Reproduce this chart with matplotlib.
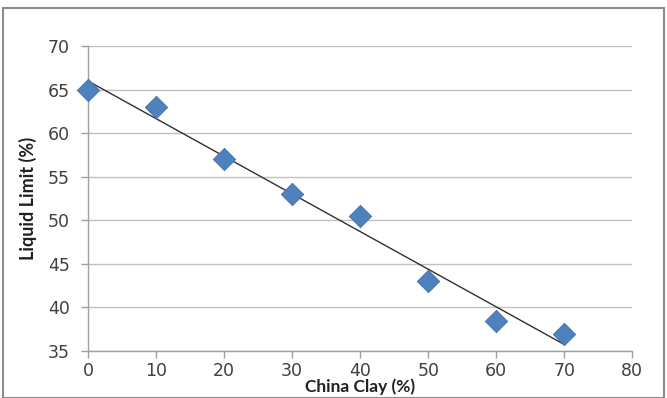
import numpy as np
import matplotlib.pyplot as plt
from matplotlib.patches import Rectangle

china_clay = [0, 10, 20, 30, 40, 50, 60, 70]
liquid_limit = [65, 63, 57, 53, 50.5, 43, 38.5, 37]
x_ticks = [0, 10, 20, 30, 40, 50, 60, 70, 80]
y_ticks = [35, 40, 45, 50, 55, 60, 65, 70]

fig = plt.figure(figsize=(6.67, 3.98), dpi=100)
ax = fig.add_axes([0.132, 0.118, 0.816, 0.766])

# outer chart frame
fig.patches.append(Rectangle((0.005, 0.0), 0.99, 0.98, transform=fig.transFigure,
                             fill=False, edgecolor='#8c8c8c', linewidth=1.5))

grid_c = '#c0c0c0'
ax.set_xlim(0, 80)
ax.set_ylim(35, 70)
ax.set_xticks(x_ticks)
ax.set_yticks(y_ticks)
ax.yaxis.grid(True, color=grid_c, linewidth=1.0)
ax.set_axisbelow(True)
for s in ['top', 'right']:
    ax.spines[s].set_visible(False)
for s in ['left', 'bottom']:
    ax.spines[s].set_color('#a0a0a0')
    ax.spines[s].set_linewidth(1.0)
ax.tick_params(axis='both', colors='#a0a0a0', length=5, width=1.0,
               labelcolor='#404040', labelsize=12.5,
               labelfontfamily='DejaVu Sans')
ax.tick_params(axis='y', pad=8)
ax.tick_params(axis='x', pad=3)

# linear trend line
slope, intercept = np.polyfit(china_clay, liquid_limit, 1)
xs = np.array([china_clay[0], china_clay[-1]])
ax.plot(xs, slope * xs + intercept, color='#303030', linewidth=1.0, zorder=3)

ax.scatter(china_clay, liquid_limit, marker='D', s=130, color='#4f81bd',
           edgecolor='#3f6fa8', linewidth=0.6, zorder=4, clip_on=False)

ax.set_xlabel('China Clay (%)', fontsize=12.5, fontweight='bold', family='Lato',
              color='#202020', labelpad=-1)
ax.set_ylabel('Liquid Limit (%)', fontsize=13, fontweight='bold', family='Lato',
              color='#202020', labelpad=8)

fig.savefig('out.png', dpi=100)
